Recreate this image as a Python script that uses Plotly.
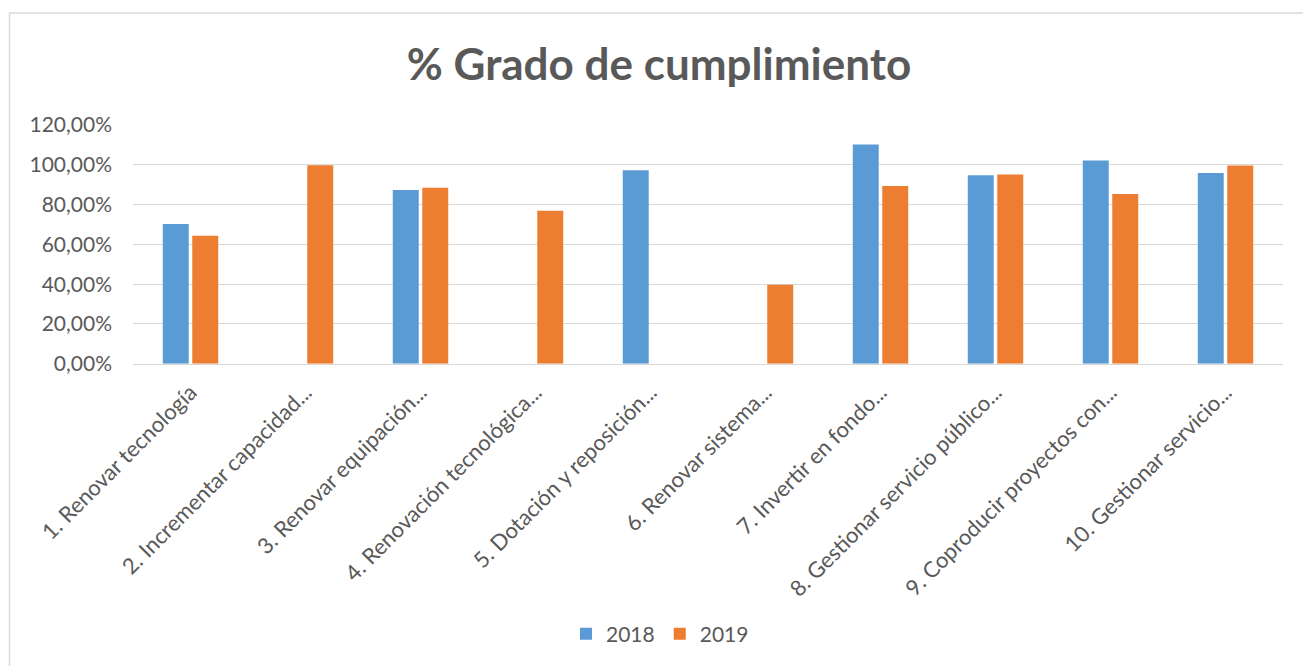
import plotly.graph_objects as go

categories = [
    "1. Renovar tecnología",
    "2. Incrementar capacidad...",
    "3. Renovar equipación...",
    "4. Renovación tecnológica...",
    "5. Dotación y reposición...",
    "6. Renovar sistema...",
    "7. Invertir en fondo...",
    "8. Gestionar servicio público...",
    "9. Coproducir proyectos con...",
    "10. Gestionar servicio...",
]
values_2018 = [0.703, None, 0.873, None, 0.973, None, 1.102, 0.948, 1.021, 0.959]
values_2019 = [0.643, 0.998, 0.885, 0.769, None, 0.397, 0.893, 0.951, 0.853, 0.996]
y_ticks = [0, 0.2, 0.4, 0.6, 0.8, 1.0, 1.2]
y_tick_labels = ["0,00%", "20,00%", "40,00%", "60,00%", "80,00%", "100,00%", "120,00%"]

FONT = "Lato"
GREY = "#595959"

# The page has an 8px body margin, so figure coordinates = page coordinates - 8
OFF = 8
W, H = 1311 - OFF, 666 - OFF

fig = go.Figure()
fig.add_trace(go.Bar(name="2018", x=categories, y=values_2018, marker=dict(color="#5B9BD5", line=dict(width=0))))
fig.add_trace(go.Bar(name="2019", x=categories, y=values_2019, marker=dict(color="#ED7D31", line=dict(width=0))))

# plot area in page coords: x 133..1283, y 125..366
L = 133 - OFF
R = W - (1283 - OFF)
T = 125 - OFF
B = H - (366 - OFF)
pw, ph = W - L - R, H - T - B

def px(x):
    return (x - OFF - L) / pw

def py(y):
    return (H - B - (y - OFF)) / ph

fig.update_layout(
    width=W, height=H,
    margin=dict(l=L, r=R, t=T, b=B),
    paper_bgcolor="white", plot_bgcolor="white",
    barmode="group", bargap=0.487, bargroupgap=0.12,
    font=dict(family=FONT, color=GREY),
    title=dict(text="<b>% Grado de cumplimiento</b>", xref="container", yref="container",
               x=(659 - OFF) / W, y=1 - (65 - OFF) / H, xanchor="center", yanchor="middle",
               font=dict(size=44, color=GREY, family=FONT)),
    legend=dict(orientation="h", xref="container", yref="container",
                x=(660 - OFF) / W, y=1 - (634 - OFF) / H, xanchor="center", yanchor="middle",
                font=dict(size=21, color=GREY, family=FONT), itemwidth=30, tracegroupgap=0),
    showlegend=True,
    shapes=[dict(type="rect", xref="paper", yref="paper",
                 x0=px(9.5), x1=px(1309), y0=py(700), y1=py(12),
                 line=dict(color="#d9d9d9", width=1.5), fillcolor="rgba(0,0,0,0)", layer="below")],
)
fig.update_xaxes(tickangle=-45, tickfont=dict(size=22, color=GREY, family=FONT),
                 showline=True, linecolor="#d9d9d9", linewidth=1, showgrid=False, ticks="",
                 ticklabelstandoff=6)
fig.update_yaxes(range=[0, 1.2], tickvals=y_ticks, ticktext=y_tick_labels,
                 tickfont=dict(size=21, color=GREY, family=FONT), showgrid=True,
                 gridcolor="#d9d9d9", gridwidth=1, zeroline=False, showline=False, ticks="",
                 ticklabelstandoff=20)

fig.write_html("out.html")
